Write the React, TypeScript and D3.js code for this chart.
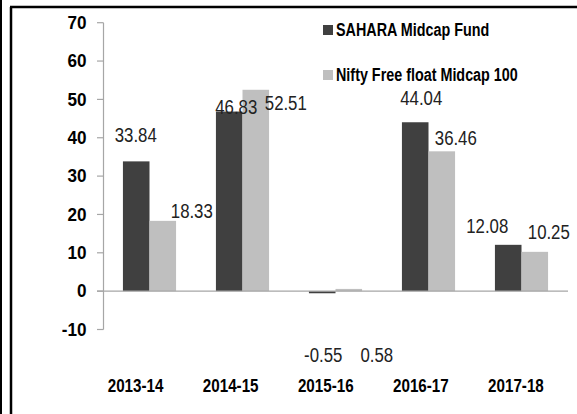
import React from "react";
import * as d3 from "d3";

const categories = ["2013-14", "2014-15", "2015-16", "2016-17", "2017-18"];
const seriesNames = ["SAHARA Midcap Fund", "Nifty Free float Midcap 100"];
const saharaValues = [33.84, 46.83, -0.55, 44.04, 12.08];
const niftyValues = [18.33, 52.51, 0.58, 36.46, 10.25];
const yTicks = [-10, 0, 10, 20, 30, 40, 50, 60, 70];

// label placement tweaks (layout only), relative to bar centre / bar end
const labelShift = [
  [[-0.5, -26.5], [7, -5], [1, 62], [6, -24], [-21, -19]],
  [[29, -10.5], [30, 13], [28, 66], [14, -14], [14, -20]],
];

const W = 577;
const H = 414;
const colors = ["#404040", "#bfbfbf"];

function NText(props: {
  x: number;
  y: number;
  anchor?: "start" | "middle" | "end";
  size: number;
  sx: number;
  bold?: boolean;
  fill?: string;
  children: React.ReactNode;
}) {
  return (
    <text
      transform={`translate(${props.x},${props.y}) scale(${props.sx},1)`}
      textAnchor={props.anchor ?? "start"}
      fontSize={props.size}
      fontWeight={props.bold ? "bold" : "normal"}
      fill={props.fill ?? "#000"}
      dominantBaseline="central"
    >
      {props.children}
    </text>
  );
}

export default function App() {
  const x0 = d3.scaleBand<string>().domain(categories).range([103, 568]).padding(0);
  const xLab = d3.scaleBand<string>().domain(categories).range([88, 563.5]).padding(0);
  const x1 = d3
    .scaleBand<string>()
    .domain(seriesNames)
    .range([0, x0.bandwidth()])
    .paddingInner(0)
    .paddingOuter(0.75);
  const y = d3.scaleLinear().domain([-10, 70]).range([329.5, 22.7]);
  const values = [saharaValues, niftyValues];
  const font = "'Liberation Sans', Arial, sans-serif";

  return (
    <svg
      width={W}
      height={H}
      style={{ position: "absolute", left: 0, top: 0, background: "#fff" }}
      fontFamily={font}
    >
      <rect x={0} y={0} width={W} height={H} fill="#fff" />
      {/* frame */}
      <line x1={1} y1={0} x2={1} y2={H} stroke="#000" strokeWidth={2} />
      <line x1={11} y1={7} x2={11} y2={H} stroke="#000" strokeWidth={2.5} />
      <line x1={10} y1={7} x2={W} y2={7} stroke="#000" strokeWidth={2.5} />

      {/* bars */}
      {values.map((vals, si) =>
        vals.map((v, ci) => {
          const bx = (x0(categories[ci]) ?? 0) + (x1(seriesNames[si]) ?? 0);
          const top = y(Math.max(v, 0));
          const h = Math.abs(y(v) - y(0));
          return (
            <rect
              key={`b${si}-${ci}`}
              x={bx}
              y={top}
              width={x1.bandwidth()}
              height={h}
              fill={colors[si]}
            />
          );
        })
      )}

      {/* axis */}
      <line x1={103.5} y1={y(70)} x2={103.5} y2={y(-10)} stroke="#a6a6a6" strokeWidth={1.2} />
      <line x1={97} y1={y(0)} x2={568} y2={y(0)} stroke="#a6a6a6" strokeWidth={1.2} />
      {yTicks.map((t) => (
        <g key={t}>
          <line x1={97} y1={y(t)} x2={103.5} y2={y(t)} stroke="#a6a6a6" strokeWidth={1.2} />
          <NText x={86.5} y={y(t)} anchor="end" size={19} sx={0.9} bold>
            {t}
          </NText>
        </g>
      ))}

      {/* x labels */}
      {categories.map((c) => (
        <NText key={c} x={(xLab(c) ?? 0) + xLab.bandwidth() / 2} y={385} anchor="middle" size={19} sx={0.8} bold>
          {c}
        </NText>
      ))}

      {/* value labels */}
      {values.map((vals, si) =>
        vals.map((v, ci) => {
          const cx = (x0(categories[ci]) ?? 0) + (x1(seriesNames[si]) ?? 0) + x1.bandwidth() / 2;
          const [dx, dy] = labelShift[si][ci];
          return (
            <NText key={`l${si}-${ci}`} x={cx + dx} y={y(v) + dy} anchor="middle" size={21} sx={0.8} fill="#222">
              {v.toFixed(2)}
            </NText>
          );
        })
      )}

      {/* legend */}
      {seriesNames.map((s, i) => (
        <g key={s}>
          <rect x={323} y={25 + i * 45} width={10} height={10} fill={colors[i]} />
          <NText x={336} y={30 + i * 45} size={17.5} sx={0.82} bold>
            {s}
          </NText>
        </g>
      ))}
    </svg>
  );
}
